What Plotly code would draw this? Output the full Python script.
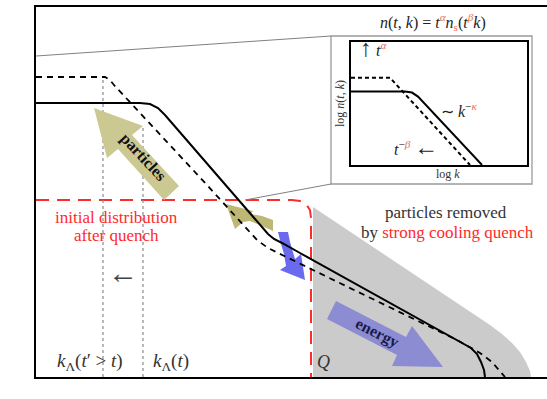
import plotly.graph_objects as go

# ---------------- data (schematic units: log k, log n) ----------------
# distribution at time t (solid) and later time t' (dashed)
logk_t = [0, 104, 114, 122, 129, 232, 238, 246, 264, 427, 435, 441, 445, 448, 449]
logn_t = [274, 274, 273, 269, 262, 143, 138, 134, 124, 34, 29, 23, 15, 7, 0]
logk_tp = [0, 69, 74, 78, 171, 221, 232, 244, 251, 277, 421, 434, 444, 456, 469]
logn_tp = [300, 300, 297, 292, 192, 137, 129, 123, 120, 107, 37, 30, 24, 15, 0]
# initial distribution after quench (red dashed)
logk_init = [0, 256, 264, 270, 274, 275, 275]
logn_init = [177, 177, 176, 173, 167, 159, 0]
# region of particles removed (gray)
logk_removed = [277, 454, 466, 476, 484, 490, 494, 495, 277]
logn_removed = [170, 52, 43, 34, 25, 15, 6, 0, 0]
# cutoff scales k_Lambda(t') and k_Lambda(t)
k_cut = [67, 107]
n_cut_top = [299, 250]
# zoom connector lines
zoom_upper_k = [0, 295]
zoom_upper_n = [321, 341]
zoom_lower_k = [209, 295]
zoom_lower_n = [177, 193]
inset_frame_k = [295, 496]
inset_frame_n = [193, 341]
# arrows (outlines)
part_arrow_k = [58, 107, 96, 143, 128, 82, 71]
part_arrow_n = [269, 251, 242, 191, 177, 228, 219]
part_small_k = [190, 217, 215, 226, 237, 237, 226, 214, 207, 199]
part_small_n = [173, 166, 163, 161, 157, 146, 151, 156, 155, 148]
energy_arrow_k = [407, 376, 370, 300, 291, 361, 356]
energy_arrow_n = [10, 51, 40, 76, 58, 22, 11]
energy_small_k = [242, 252, 254, 257, 259, 265, 269, 244, 250, 248, 245]
energy_small_n = [145, 145, 135, 126, 118, 123, 97, 107, 111, 123, 133]
# inset curves
in_k_t = [0, 54, 61, 67, 131]
in_n_t = [74, 74, 73, 69, 0]
in_k_tp = [0, 39, 119]
in_n_tp = [88, 88, 0]

SERIF = "Liberation Serif"
SAL = "#e8705a"
RED = "#ff2a2a"

fig = go.Figure()

def poly(xs, ys, color, xa="x", ya="y"):
    fig.add_trace(go.Scatter(x=xs, y=ys, mode="lines", fill="toself",
                             fillcolor=color, line=dict(width=0, color=color),
                             hoverinfo="skip", showlegend=False, xaxis=xa, yaxis=ya))

def line(xs, ys, color, width, dash="solid", xa="x", ya="y"):
    fig.add_trace(go.Scatter(x=xs, y=ys, mode="lines",
                             line=dict(color=color, width=width, dash=dash),
                             hoverinfo="skip", showlegend=False, xaxis=xa, yaxis=ya))

poly(logk_removed, logn_removed, "#cbcbcb")
line(logk_init, logn_init, RED, 2, "13px,8px")
for kc, nt in zip(k_cut, n_cut_top):
    line([kc, kc], [0, nt], "#8a8a8a", 1.2, "3px,3px")
line(zoom_upper_k, zoom_upper_n, "#808080", 1)
line(zoom_lower_k, zoom_lower_n, "#808080", 1)

poly(part_arrow_k, part_arrow_n, "#ccc892")
poly(part_small_k, part_small_n, "#bfb874")
poly(energy_arrow_k, energy_arrow_n, "#8c8cd2")
poly(energy_small_k, energy_small_n, "#6a6aee")

line(logk_tp, logn_tp, "black", 1.8, "6px,5px")
line(logk_t, logn_t, "black", 2)

# inset
line(in_k_tp, in_n_tp, "black", 2, "4px,3px", "x2", "y2")
line(in_k_t, in_n_t, "black", 2, "solid", "x2", "y2")

fig.add_shape(type="rect", xref="x", yref="y",
              x0=inset_frame_k[0], x1=inset_frame_k[1],
              y0=inset_frame_n[0], y1=inset_frame_n[1],
              line=dict(color="#9a9a9a", width=1.3), fillcolor="white", layer="below")

def ann(x, y, text, size=16, color="#222", angle=0, bold=False):
    if bold:
        text = "<b>" + text + "</b>"
    fig.add_annotation(x=x, y=y, xref="x", yref="y", text=text, showarrow=False,
                       xanchor="center", yanchor="middle", textangle=angle,
                       font=dict(family=SERIF, size=size, color=color))

BIGARROW = "<span style='font-size:24px'>%s</span>"

ann(260, -11, "log <i>k</i>", 18)
ann(-18, 185, "log <i>n</i>(<i>t</i>, <i>k</i>)", 18, angle=-90)
ann(80, 160, "initial distribution", 17, RED)
ann(80, 142, "after quench", 17, RED)
ann(410, 165, "particles removed", 17, "#333")
ann(411, 145, "by <span style='color:%s'>strong cooling quench</span>" % RED, 17, "#333")
ann(87, 105, "←", 30, "#444")
ann(54, 15, "<i>k</i><sub>Λ</sub>(<i>t</i>′ &gt; <i>t</i>)", 19, "#333")
ann(135, 15, "<i>k</i><sub>Λ</sub>(<i>t</i>)", 19, "#333")
ann(287, 15, "<i>Q</i>", 18, "#333")
ann(107, 220, "particles", 16, "#111", angle=47, bold=True)
ann(341, 44, "energy", 16, "#1a1a4a", angle=27, bold=True)

ann(397, 355, "<i>n</i>(<i>t</i>, <i>k</i>) = <i>t</i><sup><span style='color:%s'><i>α</i></span></sup>"
    "<i>n</i><sub><span style='color:%s'>s</span></sub>(<i>t</i><sup><span style='color:%s'><i>β</i></span></sup><i>k</i>)"
    % (SAL, SAL, SAL), 16, "#222")
ann(337, 329, (BIGARROW % "↑") + " <i>t</i><sup><span style='color:%s'><i>α</i></span></sup>" % SAL, 16, "#222")
ann(423, 267, "∼ <i>k</i><sup>−<span style='color:%s'><i>κ</i></span></sup>" % SAL, 16, "#222")
ann(380, 230, "<i>t</i><sup>−<span style='color:%s'><i>β</i></span></sup> " % SAL + (BIGARROW % "←"), 16, "#222")
ann(412, 203, "log <i>k</i>", 12, "#333")
ann(304, 273, "log <i>n</i>(<i>t</i>, <i>k</i>)", 12, "#333", angle=-90)

noaxis = dict(showgrid=False, zeroline=False, showticklabels=False, ticks="")
fig.update_layout(
    width=547, height=399,
    margin=dict(l=36, r=0, t=7, b=22),
    paper_bgcolor="white", plot_bgcolor="rgba(0,0,0,0)",
    showlegend=False,
    font=dict(family=SERIF),
    xaxis=dict(range=[0, 511], showline=True, mirror=True, linecolor="black",
               linewidth=2, fixedrange=True, **noaxis),
    yaxis=dict(range=[0, 370], showline=True, mirror=False, linecolor="black",
               linewidth=2, fixedrange=True, **noaxis),
    xaxis2=dict(domain=[0.6164, 0.9609], anchor="y2", range=[0, 176],
                showline=True, mirror=True, linecolor="black", linewidth=1.5, **noaxis),
    yaxis2=dict(domain=[0.5730, 0.9054], anchor="x2", range=[0, 124],
                showline=True, mirror=True, linecolor="black", linewidth=1.5, **noaxis),
)

fig.write_html("out.html")
